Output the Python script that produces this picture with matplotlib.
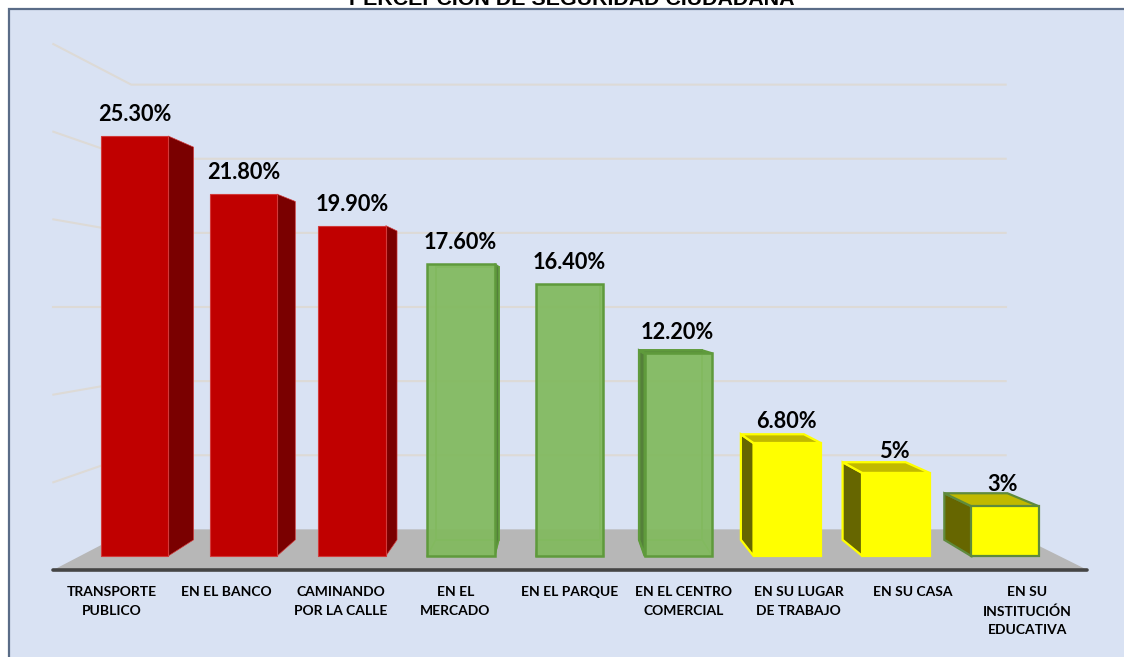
import numpy as np
import matplotlib
matplotlib.use("Agg")
import matplotlib.pyplot as plt
from matplotlib.patches import Polygon, Rectangle

categories = ["TRANSPORTE\nPUBLICO", "EN EL BANCO", "CAMINANDO\nPOR LA CALLE", "EN EL\nMERCADO", "EN EL PARQUE",
              "EN EL CENTRO\nCOMERCIAL", "EN SU LUGAR\nDE TRABAJO", "EN SU CASA", "EN SU\nINSTITUCIÓN\nEDUCATIVA"]
values = [25.3, 21.8, 19.9, 17.6, 16.4, 12.2, 6.8, 5, 3]
value_labels = ["25.30%", "21.80%", "19.90%", "17.60%", "16.40%", "12.20%", "6.80%", "5%", "3%"]
grid_values = [0, 5, 10, 15, 20, 25, 30]
title = "PERCEPCION DE SEGURIDAD CIUDADANA"

W, H = 1124, 657
PX_X, PX_Y = 108.8, 16.6     # pixels per category / per percent
X0, Y0 = 134.5, 556.0        # pixel of category 0, value 0
BAR_W = 0.62
VX, VY = 3.893, 15.0         # vanishing point
T_BAR, T_WALL, T_FRONT = 0.065, 0.107, -0.056

FONT = ["Lato", "DejaVu Sans"]


def pr(x, y, t):
    # perspective: t=0 is the front of the bars, t>0 goes back
    return (x + (VX - x) * t, y + (VY - y) * t)


def bar_box(ax, i, v, front, edge, side, top, lw=1.6, alpha=1.0, back_edge=None):
    l, r = i - BAR_W / 2, i + BAR_W / 2
    if back_edge:
        bl, br = pr(l, 0, T_BAR), pr(r, 0, T_BAR)
        tl, tr = pr(l, v, T_BAR), pr(r, v, T_BAR)
        ax.add_patch(Polygon([bl, br, tr, tl], closed=True, fc="none", ec=back_edge, lw=1.4, zorder=5))
        ax.plot(*zip(pr(l, 0, 0), bl), color=back_edge, lw=1.2, zorder=5)
        ax.plot(*zip(pr(r, 0, 0), br), color=back_edge, lw=1.2, zorder=5)
    if r < VX:
        pts = [pr(r, 0, 0), pr(r, 0, T_BAR), pr(r, v, T_BAR), pr(r, v, 0)]
        ax.add_patch(Polygon(pts, closed=True, fc=side, ec=edge, lw=lw * 0.6, zorder=6))
    if l > VX:
        pts = [pr(l, 0, 0), pr(l, 0, T_BAR), pr(l, v, T_BAR), pr(l, v, 0)]
        ax.add_patch(Polygon(pts, closed=True, fc=side, ec=edge, lw=lw, zorder=6))
    if v < VY:
        pts = [pr(l, v, 0), pr(l, v, T_BAR), pr(r, v, T_BAR), pr(r, v, 0)]
        ax.add_patch(Polygon(pts, closed=True, fc=top, ec=edge, lw=lw, zorder=6))
    ax.bar(i, v, BAR_W, color=matplotlib.colors.to_rgba(front, alpha), edgecolor=edge, linewidth=lw, zorder=7)


def main():
    fig = plt.figure(figsize=(W / 100, H / 100), dpi=100, facecolor="white")
    ax = fig.add_axes([0, 0, 1, 1])
    ax.set_xlim(-X0 / PX_X, (W - X0) / PX_X)
    ax.set_ylim(-(H - Y0) / PX_Y, Y0 / PX_Y)
    ax.axis("off")

    # chart frame runs off the right and bottom of the picture
    ax.add_patch(Rectangle((0.0083, -0.02), 1.02, 1.006, transform=ax.transAxes, fc="#D9E2F3", ec="#5A6C87", lw=1.6, zorder=0))

    x_a, x_b = -0.5, 8.5
    # gridlines on back and left wall
    for g in grid_values[1:]:
        ax.plot(*zip(pr(x_a, g, T_FRONT), pr(x_a, g, T_WALL), pr(x_b, g, T_WALL)), color="#DDDAD6", lw=1.5, zorder=1)

    # floor
    floor = [pr(x_a, 0, T_FRONT), pr(x_a, 0, T_WALL), pr(x_b, 0, T_WALL), pr(x_b, 0, T_FRONT)]
    ax.add_patch(Polygon(floor, closed=True, fc="#B7B7B7", ec="none", zorder=2))
    ax.plot(*zip(floor[0], floor[3]), color="#454545", lw=2.6, solid_capstyle="round", zorder=3)

    for i, v in enumerate(values):
        if i < 3:
            bar_box(ax, i, v, "#C00000", "#D23A3A", "#7A0000", "#7A0000", lw=0.8)
        elif i < 6:
            bar_box(ax, i, v, "#83BA60", "#5F9A3C", "#54803A", "#54803A", lw=1.8, alpha=0.95, back_edge="#74A950")
        elif i < 8:
            bar_box(ax, i, v, "#FFFF00", "#FFFF00", "#666600", "#C1B900")
        else:
            bar_box(ax, i, v, "#FFFF00", "#5F8A3C", "#666600", "#C1B900")

    # value labels sit a fixed distance above the front top of the bar
    for i, v in enumerate(values):
        ax.annotate(value_labels[i], xy=(i * 0.9972 + 0.005, v), xytext=(0, 15.3), textcoords="offset points",
                    ha="center", va="center", fontsize=15.7, fontweight="bold", family=FONT,
                    color="black", zorder=9)

    # the axis labels are spaced a bit wider than the bars
    for i, c in enumerate(categories):
        ax.text(-0.207 + 1.0515 * i, -1.8, c, ha="center", va="top", fontsize=10, fontweight="bold", family=FONT,
                color="black", linespacing=1.68, zorder=9)

    fig.text(572 / W, 1 - 5 / H, title, ha="center", va="baseline", fontsize=15.4, fontweight="bold",
             family=["Liberation Sans", "DejaVu Sans"], color="black")

    fig.savefig("out.png", dpi=100)
    plt.close(fig)


if __name__ == "__main__":
    main()
